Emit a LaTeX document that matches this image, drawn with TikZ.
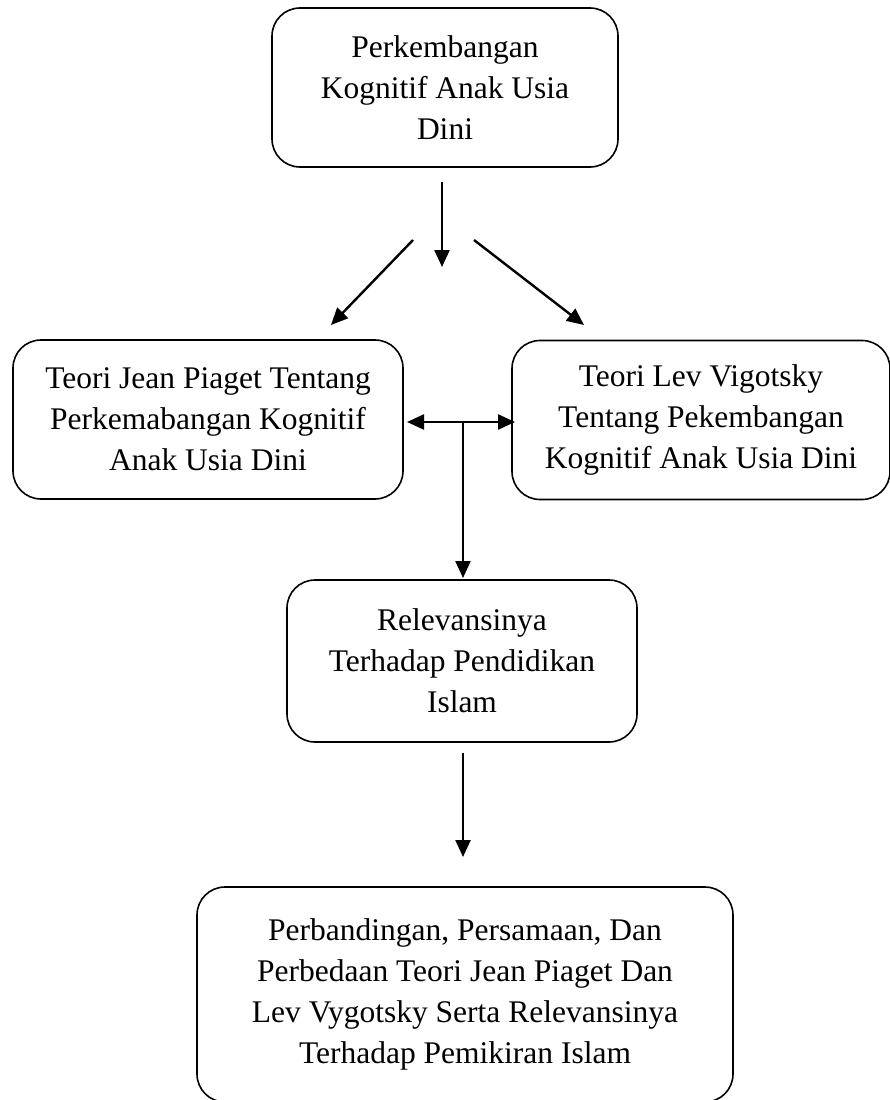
\documentclass[tikz,border=0pt]{standalone}
\usepackage{fontspec}
\setmainfont{Liberation Serif}
\usetikzlibrary{arrows.meta}
\begin{document}
\begin{tikzpicture}[x=1pt,y=-1pt,>={Triangle[length=17pt,width=15pt]},
    box/.style={draw,line width=1.6pt,rounded corners=28pt,inner sep=0pt,align=center,font=\fontsize{31.5}{41}\selectfont},
    arr/.style={line width=2.4pt}]
    \useasboundingbox (0,0) rectangle (890,1100);

    \node[box,minimum width=346pt,minimum height=159pt] (kognitif) at (445,87.5) {Perkembangan\\Kognitif Anak Usia\\Dini};
    \node[box,minimum width=390pt,minimum height=159pt] (piaget) at (208,419.5) {Teori Jean Piaget Tentang\\Perkemabangan Kognitif\\Anak Usia Dini};
    \node[box,minimum width=378pt,minimum height=159pt] (vygotsky) at (701,420) {Teori Lev Vigotsky\\Tentang Pekembangan\\Kognitif Anak Usia Dini};
    \node[box,minimum width=350pt,minimum height=162pt] (relevansi) at (462,661) {Relevansinya\\Terhadap Pendidikan\\Islam};
    \node[box,minimum width=536pt,minimum height=215pt] (banding) at (465,994.5) {Perbandingan, Persamaan, Dan\\Perbedaan Teori Jean Piaget Dan\\Lev Vygotsky Serta Relevansinya\\Terhadap Pemikiran Islam};

    % free ends of the arrows
    \coordinate (down1) at (442,182);
    \coordinate (down2) at (442,267);
    \coordinate (left1) at (413,240);
    \coordinate (left2) at (331,325);
    \coordinate (right1) at (474,240);
    \coordinate (right2) at (584,325);
    \coordinate (bothl) at (407,422);
    \coordinate (bothr) at (515,422);
    \coordinate (bothm) at (463,422);
    \coordinate (rel) at (463,578);
    \coordinate (last1) at (463,753);
    \coordinate (last2) at (463,857);

    \draw[arr,->] (down1) -- (down2);
    \draw[arr,->] (left1) -- (left2);
    \draw[arr,->] (right1) -- (right2);
    \draw[arr,<->] (bothl) -- (bothr);
    \draw[arr,->] (bothm) -- (rel);
    \draw[arr,->] (last1) -- (last2);
\end{tikzpicture}
\end{document}
